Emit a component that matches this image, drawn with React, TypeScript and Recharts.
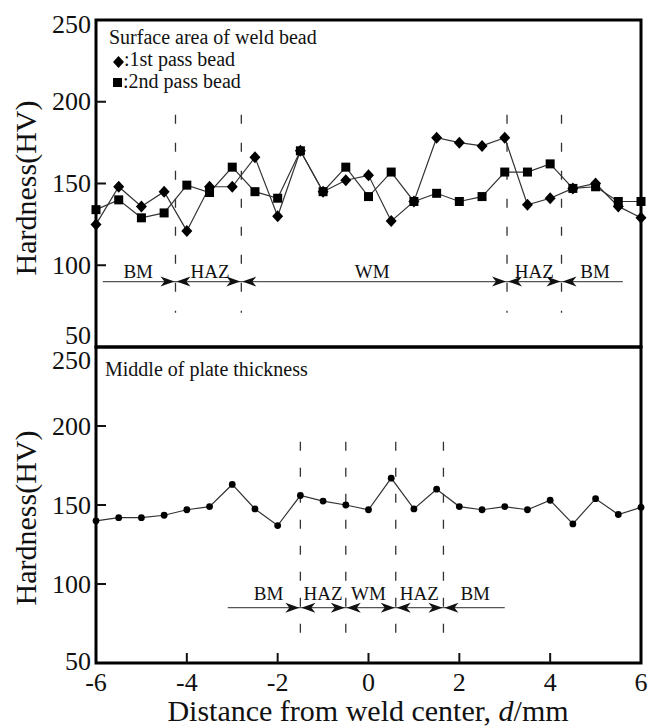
import React from "react";
import {
  Legend,
  Line,
  LineChart,
  ReferenceArea,
  ReferenceDot,
  ReferenceLine,
  XAxis,
  YAxis,
} from "recharts";

// distance from weld center, mm
const DIST = [-6, -5.5, -5, -4.5, -4, -3.5, -3, -2.5, -2, -1.5, -1, -0.5, 0, 0.5, 1, 1.5, 2, 2.5, 3, 3.5, 4, 4.5, 5, 5.5, 6];

// surface area of weld bead
const PASS1 = [125, 148, 136, 145, 121, 148, 148, 166, 130, 170, 145, 152, 155, 127, 139, 178, 175, 173, 178, 137, 141, 147, 150, 136, 129];
const PASS2 = [134, 140, 129, 132, 149, 144.5, 160, 145, 141, 170, 145, 160, 142, 157, 139, 144, 139, 142, 157, 157, 162, 147, 148, 139, 139];

// middle of plate thickness
const MIDDLE = [140, 142, 142, 143.5, 147, 149, 163, 147.5, 137, 156, 152.5, 150, 147, 167, 147.5, 160, 149, 147, 149, 147, 153, 138, 154, 144, 148.5];

const Y_TICKS = [50, 100, 150, 200, 250];
const X_TICKS = [-6, -4, -2, 0, 2, 4, 6];

// zone boundaries and labels
const TOP_BOUNDS = [-4.25, -2.8, 3.05, 4.25];
const TOP_ZONES = [
  { x: -5.07, name: "BM" },
  { x: -3.49, name: "HAZ" },
  { x: 0.08, name: "WM" },
  { x: 3.65, name: "HAZ" },
  { x: 4.99, name: "BM" },
];
const BOTTOM_BOUNDS = [-1.5, -0.5, 0.6, 1.65];
const BOTTOM_ZONES = [
  { x: -2.2, name: "BM" },
  { x: -1.0, name: "HAZ" },
  { x: 0.0, name: "WM" },
  { x: 1.12, name: "HAZ" },
  { x: 2.35, name: "BM" },
];

const topData = DIST.map((d, i) => ({ d, pass1: PASS1[i], pass2: PASS2[i] }));
const bottomData = DIST.map((d, i) => ({ d, mid: MIDDLE[i] }));

const FONT = "'Liberation Serif', 'Times New Roman', serif";
const PLOT_LEFT = 96;
const BOTTOM_AXIS_Y = 663;

const diamondDot = (props: any) => {
  const { cx, cy, index } = props;
  return (
    <path
      key={"d" + index}
      d={`M${cx},${cy - 6} L${cx + 5.5},${cy} L${cx},${cy + 6} L${cx - 5.5},${cy} Z`}
      fill="#000"
    />
  );
};

const squareDot = (props: any) => {
  const { cx, cy, index } = props;
  return <rect key={"s" + index} x={cx - 4.5} y={cy - 4.5} width={9} height={9} fill="#000" />;
};

const circleDot = (props: any) => {
  const { cx, cy, index } = props;
  return <circle key={"c" + index} cx={cx} cy={cy} r={3.4} fill="#000" />;
};

const makeYTick = (shift: Record<number, number>) => (props: any) => {
  const { y, payload } = props;
  const v = payload.value;
  return (
    <g>
      <text x={91} y={y + (shift[v] ?? 0)} textAnchor="end" dominantBaseline="central" fontSize={26} fontFamily={FONT} fill="#111">
        {v}
      </text>
      {v > 50 && v < 250 && <line x1={PLOT_LEFT} x2={PLOT_LEFT + 10} y1={y} y2={y} stroke="#111" strokeWidth={2} />}
    </g>
  );
};

const xTick = (props: any) => {
  const { x, payload } = props;
  const v = payload.value;
  return (
    <g>
      <text x={x} y={682} textAnchor="middle" dominantBaseline="central" fontSize={26} fontFamily={FONT} fill="#111">
        {v}
      </text>
      {v > -6 && v < 6 && <line x1={x} x2={x} y1={BOTTOM_AXIS_Y} y2={BOTTOM_AXIS_Y - 10} stroke="#111" strokeWidth={2} />}
    </g>
  );
};

const yTitle = (cy: number) => () =>
  (
    <text transform={`translate(25, ${cy}) rotate(-90)`} textAnchor="middle" dominantBaseline="central" fontSize={30} fontFamily={FONT} fill="#111">
      Hardness(HV)
    </text>
  );

const xTitle = () => (
  <text x={368} y={721} textAnchor="middle" fontSize={30} fontFamily={FONT} fill="#111">
    Distance from weld center, <tspan fontStyle="italic">d</tspan>/mm
  </text>
);

const arrowPair = (props: any) => {
  const { cx, cy } = props;
  return (
    <g>
      <path d={`M${cx - 1},${cy} L${cx - 15},${cy - 5} L${cx - 11},${cy} L${cx - 15},${cy + 5} Z`} fill="#111" />
      <path d={`M${cx + 1},${cy} L${cx + 15},${cy - 5} L${cx + 11},${cy} L${cx + 15},${cy + 5} Z`} fill="#111" />
    </g>
  );
};

const zoneText = (name: string) => (props: any) => (
  <text x={props.cx} y={props.cy} textAnchor="middle" fontSize={19} fontFamily={FONT} fill="#111">
    {name}
  </text>
);

const TopLegend = () => (
  <div style={{ fontFamily: FONT, fontSize: 20, lineHeight: "22px", color: "#111", whiteSpace: "nowrap" }}>
    <div>Surface area of weld bead</div>
    <div style={{ paddingLeft: 4 }}>
      <svg width={11} height={12} style={{ verticalAlign: "-2px" }}>
        <path d="M5.5,0 L11,6 L5.5,12 L0,6 Z" fill="#000" />
      </svg>
      :1st pass bead
    </div>
    <div style={{ paddingLeft: 4 }}>
      <svg width={9} height={9} style={{ verticalAlign: "1px", marginRight: 1 }}>
        <rect width={9} height={9} fill="#000" />
      </svg>
      :2nd pass bead
    </div>
  </div>
);

const BottomLegend = () => (
  <div style={{ fontFamily: FONT, fontSize: 20, lineHeight: "22px", color: "#111", whiteSpace: "nowrap" }}>
    Middle of plate thickness
  </div>
);

export default function App() {
  return (
    <div style={{ position: "absolute", left: 0, top: 0, width: 648, height: 727, background: "#fff" }}>
      <div style={{ position: "absolute", left: 0, top: 0 }}>
        <LineChart width={648} height={350} data={topData} margin={{ top: 20, right: 7, bottom: 3, left: 0 }}>
          <XAxis dataKey="d" type="number" domain={[-6, 6]} hide />
          <YAxis
            type="number"
            domain={[50, 250]}
            ticks={Y_TICKS}
            interval={0}
            width={96}
            axisLine={false}
            tickLine={false}
            tickSize={0}
            tick={makeYTick({ 250: 4, 50: -12 })}
            label={{ content: yTitle(188) }}
          />
          <Legend
            layout="vertical"
            align="center"
            verticalAlign="middle"
            content={TopLegend}
            wrapperStyle={{ position: "absolute", left: 109, top: 26, width: 300, height: 70 }}
          />
          <ReferenceArea x1={-6} x2={6} y1={50} y2={250} fill="none" stroke="#000" strokeWidth={3} />
          {TOP_BOUNDS.map((b) => (
            <ReferenceLine
              key={"tb" + b}
              segment={[{ x: b, y: 192 }, { x: b, y: 71 }]}
              stroke="#333"
              strokeWidth={1.3}
              strokeDasharray="9 19"
            />
          ))}
          <ReferenceLine segment={[{ x: -5.85, y: 90 }, { x: 5.6, y: 90 }]} stroke="#555" strokeWidth={1.3} />
          {TOP_BOUNDS.map((b) => (
            <ReferenceDot key={"ta" + b} x={b} y={90} r={0} shape={arrowPair} />
          ))}
          {TOP_ZONES.map((z, i) => (
            <ReferenceDot key={"tz" + i} x={z.x} y={92.5} r={0} shape={zoneText(z.name)} />
          ))}
          <Line type="linear" dataKey="pass2" stroke="#333" strokeWidth={1.2} dot={squareDot} activeDot={false} isAnimationActive={false} />
          <Line type="linear" dataKey="pass1" stroke="#333" strokeWidth={1.2} dot={diamondDot} activeDot={false} isAnimationActive={false} />
        </LineChart>
      </div>
      <div style={{ position: "absolute", left: 0, top: 0 }}>
        <LineChart width={648} height={727} data={bottomData} margin={{ top: 347, right: 7, bottom: 0, left: 0 }}>
          <XAxis
            dataKey="d"
            type="number"
            domain={[-6, 6]}
            ticks={X_TICKS}
            interval={0}
            height={64}
            axisLine={false}
            tickLine={false}
            tickSize={0}
            tick={xTick}
            label={{ content: xTitle }}
          />
          <YAxis
            type="number"
            domain={[50, 250]}
            ticks={Y_TICKS}
            interval={0}
            width={96}
            axisLine={false}
            tickLine={false}
            tickSize={0}
            tick={makeYTick({ 250: 13, 50: -2 })}
            label={{ content: yTitle(518) }}
          />
          <Legend
            layout="vertical"
            align="center"
            verticalAlign="middle"
            content={BottomLegend}
            wrapperStyle={{ position: "absolute", left: 105, top: 358, width: 300, height: 24 }}
          />
          <ReferenceArea x1={-6} x2={6} y1={50} y2={250} fill="none" stroke="#000" strokeWidth={3} />
          {BOTTOM_BOUNDS.map((b) => (
            <ReferenceLine
              key={"bb" + b}
              segment={[{ x: b, y: 190 }, { x: b, y: 67 }]}
              stroke="#333"
              strokeWidth={1.3}
              strokeDasharray="9 17"
            />
          ))}
          <ReferenceLine segment={[{ x: -3.1, y: 85 }, { x: 3.0, y: 85 }]} stroke="#555" strokeWidth={1.3} />
          {BOTTOM_BOUNDS.map((b) => (
            <ReferenceDot key={"ba" + b} x={b} y={85} r={0} shape={arrowPair} />
          ))}
          {BOTTOM_ZONES.map((z, i) => (
            <ReferenceDot key={"bz" + i} x={z.x} y={90} r={0} shape={zoneText(z.name)} />
          ))}
          <Line type="linear" dataKey="mid" stroke="#333" strokeWidth={1.2} dot={circleDot} activeDot={false} isAnimationActive={false} />
        </LineChart>
      </div>
    </div>
  );
}
